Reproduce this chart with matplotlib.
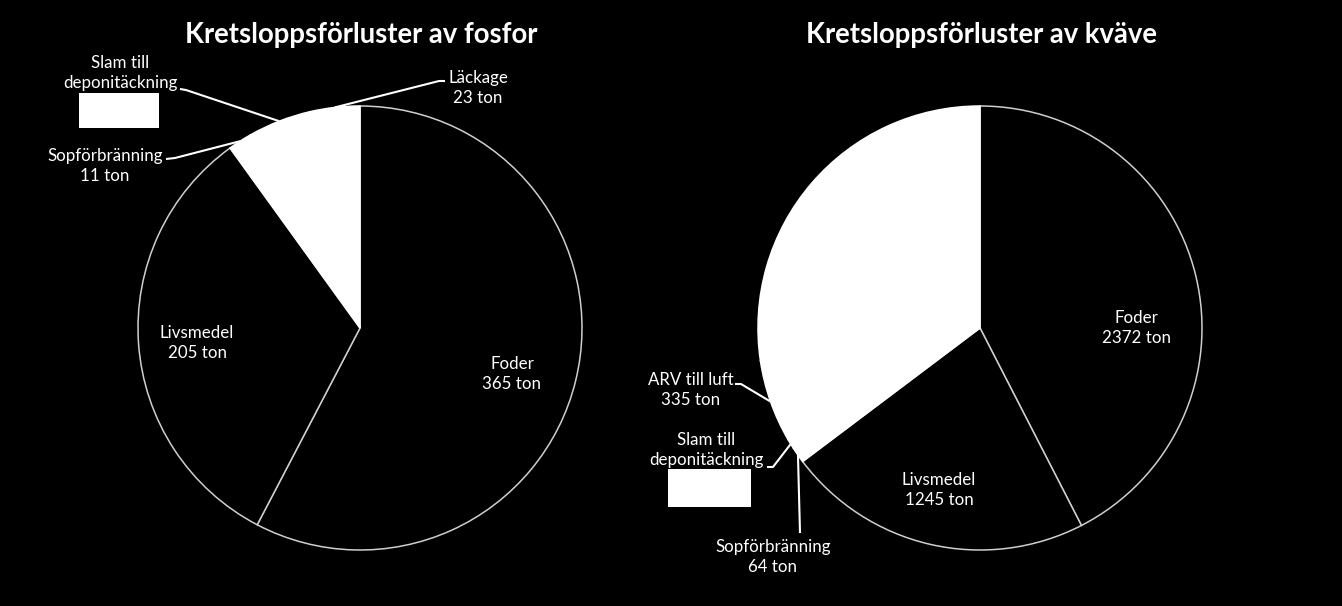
import numpy as np
import matplotlib
matplotlib.use("Agg")
import matplotlib.pyplot as plt
from matplotlib.patches import Rectangle

# ---------------- data ----------------
fosfor_title = "Kretsloppsförluster av fosfor"
fosfor_labels = ["Foder", "Livsmedel", "Sopförbränning", "Slam till\ndeponitäckning", "Läckage"]
fosfor_values = [365, 205, 11, 29, 23]
fosfor_shown = [True, True, True, False, True]   # Slam value is covered by a white box
fosfor_colors = ["black", "black", "white", "white", "white"]

kvave_title = "Kretsloppsförluster av kväve"
kvave_labels = ["Foder", "Livsmedel", "Sopförbränning", "Slam till\ndeponitäckning", "ARV till luft", "Läckage"]
kvave_values = [2372, 1245, 64, 42, 335, 1530]
kvave_shown = [True, True, True, False, True, False]
kvave_colors = ["black", "black", "white", "white", "white", "white"]

W, H = 1342, 606
FONT = "Lato"

fig = plt.figure(figsize=(W / 100, H / 100), dpi=100, facecolor="black")
ax = fig.add_axes([0, 0, 1, 1])
ax.set_xlim(0, W)
ax.set_ylim(0, H)
ax.set_aspect("equal")
ax.axis("off")
ax.set_facecolor("black")


def Y(y):
    return H - y


def draw_pie(values, colors, cx, cy, r):
    wedges, _ = ax.pie(values, colors=colors, startangle=90, counterclock=False,
                       center=(cx, Y(cy)), radius=r, frame=True,
                       wedgeprops=dict(linewidth=1.1))
    for w, c in zip(wedges, colors):
        w.set_edgecolor("#cfcfcf" if c == "black" else "white")
    return wedges


def edge_point(values, idx, cx, cy, r):
    v = np.array(values, dtype=float)
    cum = np.cumsum(v) / v.sum() * 360.0
    start = 0 if idx == 0 else cum[idx - 1]
    mid = (start + cum[idx]) / 2.0
    a = np.deg2rad(90 - mid)
    return cx + r * np.cos(a), Y(cy) + r * np.sin(a)


def label(text, x, y, size=12.2):
    ax.text(x, Y(y), text, color="white", ha="center", va="center",
            fontsize=size, family=FONT, linespacing=1.38)


def leader(points, end):
    xs = [p[0] for p in points] + [end[0]]
    ys = [Y(p[1]) for p in points] + [end[1]]
    ax.plot(xs, ys, color="white", lw=1.5, solid_capstyle="butt")


# ---------------- left pie (fosfor) ----------------
lcx, lcy, lr = 360, 328, 222
draw_pie(fosfor_values, fosfor_colors, lcx, lcy, lr)
ax.text(361, Y(35), fosfor_title, color="white", ha="center", va="center",
        fontsize=19.8, fontweight="bold", family=FONT)

def ftxt(i):
    name = fosfor_labels[i]
    return f"{name}\n{fosfor_values[i]} ton" if fosfor_shown[i] else name

label(ftxt(0), 512, 374)
label(ftxt(1), 197, 343)
label(ftxt(2), 105, 166)
label(ftxt(3), 120, 73)
label(ftxt(4), 478, 88)
ax.add_patch(Rectangle((79, Y(128)), 80, 35, facecolor="white", edgecolor="none", zorder=5))

leader([(180, 89), (186, 90)], edge_point(fosfor_values, 3, lcx, lcy, lr))
leader([(166, 159), (175, 158)], edge_point(fosfor_values, 2, lcx, lcy, lr))
leader([(445, 81), (439, 81)], edge_point(fosfor_values, 4, lcx, lcy, lr))

# ---------------- right pie (kväve) ----------------
rcx, rcy, rr = 980, 328, 222
draw_pie(kvave_values, kvave_colors, rcx, rcy, rr)
ax.text(982, Y(35), kvave_title, color="white", ha="center", va="center",
        fontsize=19.8, fontweight="bold", family=FONT)

def ktxt(i):
    name = kvave_labels[i]
    return f"{name}\n{kvave_values[i]} ton" if kvave_shown[i] else name

label(ktxt(0), 1136, 328)
label(ktxt(1), 939, 490)
label(ktxt(4), 691, 390)
label(ktxt(3), 706, 450)
label(ktxt(2), 773, 557)
ax.add_patch(Rectangle((668, Y(507)), 83, 38, facecolor="white", edgecolor="none", zorder=5))

leader([(735, 384), (741, 384)], edge_point(kvave_values, 4, rcx, rcy, rr))
leader([(767, 467), (773, 467)], edge_point(kvave_values, 3, rcx, rcy, rr))
leader([(800, 533)], edge_point(kvave_values, 2, rcx, rcy, rr))

ax.set_xlim(0, W)
ax.set_ylim(0, H)
ax.axis("off")
fig.savefig("out.png", dpi=100, facecolor="black")
